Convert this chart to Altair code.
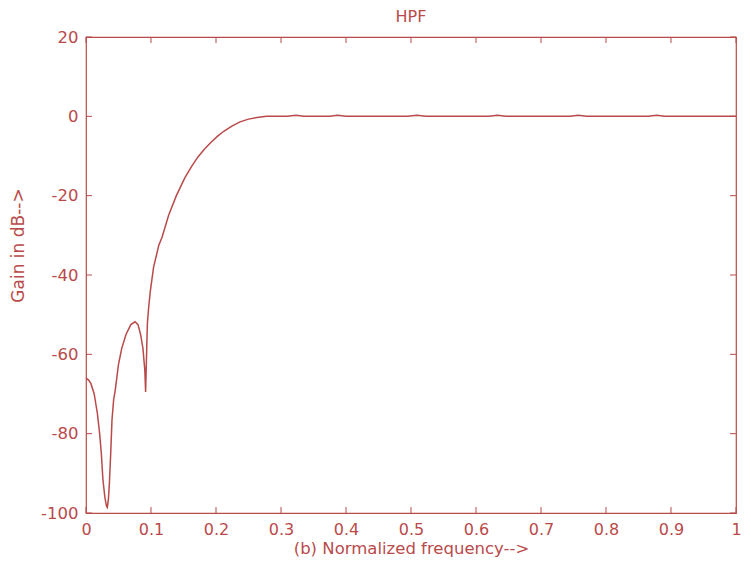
import altair as alt
import pandas as pd

# Normalized frequency and gain (dB)
freq = [0.0, 0.004, 0.0076, 0.0126, 0.0176, 0.021, 0.0236, 0.026, 0.029, 0.0315,
        0.0328, 0.0345, 0.036, 0.038, 0.040, 0.0425, 0.045, 0.050, 0.055, 0.0615,
        0.069, 0.0755, 0.080, 0.084, 0.0876, 0.0905, 0.0917, 0.0935, 0.0945, 0.0965,
        0.099, 0.104, 0.112, 0.117, 0.127, 0.139, 0.152, 0.163, 0.172, 0.182,
        0.192, 0.2025, 0.2125, 0.225, 0.237, 0.25, 0.263, 0.278, 0.29, 0.31,
        0.323, 0.335, 0.375, 0.387, 0.40, 0.495, 0.509, 0.523, 0.62, 0.633,
        0.646, 0.745, 0.757, 0.77, 0.865, 0.878, 0.89, 1.0]
gain = [-66.0, -66.5, -67.4, -70.0, -75.0, -80.0, -85.0, -91.5, -96.0, -98.3,
        -98.6, -96.5, -92.5, -85.0, -76.5, -71.5, -69.0, -62.5, -58.5, -55.0,
        -52.5, -51.8, -52.5, -55.0, -58.5, -64.0, -69.5, -58.0, -52.0, -48.0,
        -44.0, -38.0, -32.5, -30.5, -25.0, -20.0, -15.5, -12.5, -10.3, -8.3,
        -6.6, -5.0, -3.7, -2.4, -1.4, -0.7, -0.3, 0.0, 0.0, 0.0,
        0.3, 0.0, 0.0, 0.3, 0.0, 0.0, 0.3, 0.0, 0.0, 0.3,
        0.0, 0.0, 0.3, 0.0, 0.0, 0.3, 0.0, 0.0]

x_ticks = [0, 0.1, 0.2, 0.3, 0.4, 0.5, 0.6, 0.7, 0.8, 0.9, 1]
y_ticks = [-100, -80, -60, -40, -20, 0, 20]
title_text = ["HPF"]

COLOR = "#b94a4a"
FONT = "DejaVu Sans"
W, H = 650, 476
TL = 6

df = pd.DataFrame({"freq": freq, "gain": gain})
xt = pd.DataFrame({"freq": x_ticks})
yt = pd.DataFrame({"gain": y_ticks})
tt = pd.DataFrame({"label": title_text})

xs = alt.Scale(domain=[0, 1], nice=False, zero=False)
ys = alt.Scale(domain=[-100, 20], nice=False, zero=False)

x_axis = alt.Axis(
    values=x_ticks, format=".1~f", ticks=False, domain=False, grid=False,
    labelPadding=8, labelFlush=False, labelOverlap=False,
    labelFont=FONT, labelFontSize=16, labelColor=COLOR,
    title="(b) Normalized frequency-->", titleY=35, titleBaseline="middle",
    titleFont=FONT, titleFontSize=16.5, titleFontWeight="normal", titleColor=COLOR)
y_axis = alt.Axis(
    values=y_ticks, labelExpr="'' + datum.value", ticks=False, domain=False, grid=False,
    labelPadding=8, labelFlush=False, labelOverlap=False,
    labelFont=FONT, labelFontSize=16.5, labelColor=COLOR,
    title="Gain in dB-->", titleX=-68, titleY=208, titleAngle=270,
    titleAlign="center", titleBaseline="middle",
    titleFont=FONT, titleFontSize=17, titleFontWeight="normal", titleColor=COLOR)

line = alt.Chart(df).mark_line(color=COLOR, strokeWidth=1.5).encode(
    x=alt.X("freq:Q", scale=xs, axis=x_axis),
    y=alt.Y("gain:Q", scale=ys, axis=y_axis),
)

bottom_ticks = alt.Chart(xt).mark_rule(color=COLOR, strokeWidth=1).encode(
    x=alt.X("freq:Q", scale=xs, axis=x_axis), y=alt.value(H), y2=alt.value(H - TL))
top_ticks = alt.Chart(xt).mark_rule(color=COLOR, strokeWidth=1).encode(
    x=alt.X("freq:Q", scale=xs, axis=x_axis), y=alt.value(0), y2=alt.value(TL))
left_ticks = alt.Chart(yt).mark_rule(color=COLOR, strokeWidth=1).encode(
    y=alt.Y("gain:Q", scale=ys, axis=y_axis), x=alt.value(0), x2=alt.value(TL))
right_ticks = alt.Chart(yt).mark_rule(color=COLOR, strokeWidth=1).encode(
    y=alt.Y("gain:Q", scale=ys, axis=y_axis), x=alt.value(W), x2=alt.value(W - TL))

title = alt.Chart(tt).mark_text(
    font=FONT, fontSize=16, color=COLOR, align="center", baseline="middle"
).encode(text="label:N", x=alt.value(W / 2), y=alt.value(-20))

chart = alt.layer(line, bottom_ticks, top_ticks, left_ticks, right_ticks, title).properties(
    width=W, height=H,
    padding={"left": 78, "top": 29, "right": 7, "bottom": 45},
    autosize=alt.AutoSizeParams(type="none"),
    background="white",
).configure_view(stroke=COLOR, strokeWidth=1.2)

chart.save("out.html", embed_options={"renderer": "svg", "actions": False})
